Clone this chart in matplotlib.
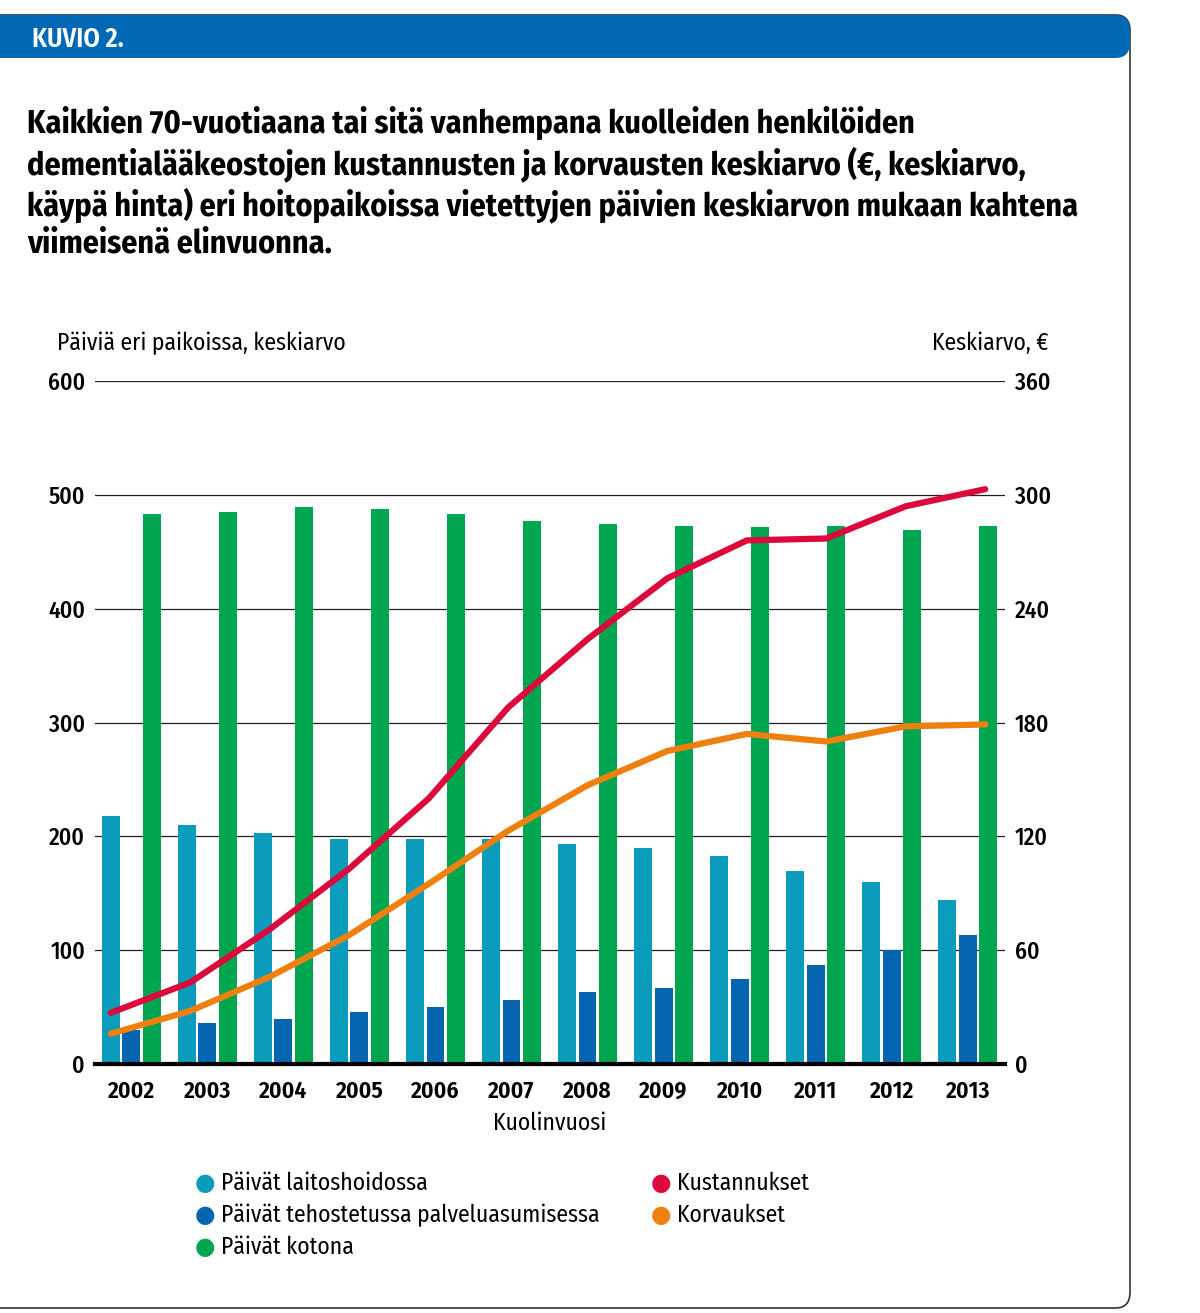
import matplotlib
matplotlib.use("Agg")
import numpy as np
import matplotlib.pyplot as plt
from matplotlib.patches import FancyBboxPatch

years = [str(y) for y in range(2002, 2014)]
laitos = [218, 210, 203, 198, 198, 198, 193, 190, 183, 170, 160, 144]
tehost = [30, 36, 40, 46, 50, 56, 63, 67, 75, 87, 100, 113]
kotona = [483, 485, 489, 488, 483, 477, 474, 473, 472, 473, 469, 473]
kustannukset = [27, 43, 71, 103, 140, 188, 224, 256, 276, 277, 294, 303]
korvaukset = [16, 28, 46, 68, 95, 123, 147, 165, 174, 170, 178, 179]

C_LAITOS = "#0b9bbb"
C_TEHOST = "#0565b0"
C_KOTONA = "#00a54f"
C_KUST = "#dc0a3c"
C_KORV = "#ee8010"

plt.rcParams["font.family"] = ["Fira Sans Condensed", "DejaVu Sans"]

fig = plt.figure(figsize=(12, 13.13), dpi=100)
ax = fig.add_axes([0.079, 0.1896, 0.7585, 0.5202])
ax2 = ax.twinx()

x = np.arange(len(years))
bw = 0.235
step = 0.268
ax.bar(x - step, laitos, bw, color=C_LAITOS, zorder=2)
ax.bar(x, tehost, bw, color=C_TEHOST, zorder=2)
ax.bar(x + step, kotona, bw, color=C_KOTONA, zorder=2)

# the lines run slightly wider than the bar groups in the original
lx = x + np.interp(x, [0, 11], [-0.27, 0.23])
ax2.plot(lx, kustannukset, color=C_KUST, lw=4.5, solid_capstyle="round", solid_joinstyle="round")
ax2.plot(lx, korvaukset, color=C_KORV, lw=4.5, solid_capstyle="round", solid_joinstyle="round")

ax.set_xlim(-0.48, 11.49)
ax.set_ylim(0, 600)
ax2.set_ylim(0, 360)
ax.set_yticks(range(0, 601, 100))
ax2.set_yticks(range(0, 361, 60))
ax.yaxis.grid(True, color="#222222", lw=0.9, zorder=0)
ax.set_axisbelow(True)
for a in (ax, ax2):
    for s in a.spines.values():
        s.set_visible(False)
    a.tick_params(length=0, labelsize=17)
    for t in a.get_yticklabels():
        t.set_fontweight(500)
ax.spines["bottom"].set_visible(True)
ax.spines["bottom"].set_linewidth(3)
ax.spines["bottom"].set_zorder(5)
ax.set_xticks(x)
ax.set_xticklabels(years, fontsize=17, fontweight=600)
ax.tick_params(axis="x", pad=11)
ax.tick_params(axis="y", pad=7)
ax2.tick_params(axis="y", pad=7)
ax.set_xlabel("Kuolinvuosi", fontsize=17, labelpad=7)
ax2.set_zorder(ax.get_zorder() + 1)

fig.text(57 / 1200, 1 - 343 / 1313, "Päiviä eri paikoissa, keskiarvo", fontsize=17, va="center")
fig.text(1048 / 1200, 1 - 343 / 1313, "Keskiarvo, €", fontsize=17, va="center", ha="right")

title = ("Kaikkien 70-vuotiaana tai sitä vanhempana kuolleiden henkilöiden\n"
         "dementialääkeostojen kustannusten ja korvausten keskiarvo (€, keskiarvo,\n"
         "käypä hinta) eri hoitopaikoissa vietettyjen päivien keskiarvon mukaan kahtena\n"
         "viimeisenä elinvuonna.")
fig.text(27 / 1200, 1 - 106 / 1313, title, fontsize=23, fontweight=700, va="top", linespacing=1.2)

# header bar and frame
fig.patches.append(FancyBboxPatch((-20 / 1200, 1 - 1308 / 1313), 1150 / 1200, 1293 / 1313,
                                  boxstyle="round,pad=0,rounding_size=0.012", transform=fig.transFigure,
                                  fc="none", ec="#333333", lw=1.2))
fig.patches.append(FancyBboxPatch((-20 / 1200, 1 - 58 / 1313), 1150 / 1200, 43 / 1313,
                                  boxstyle="round,pad=0,rounding_size=0.012", transform=fig.transFigure,
                                  fc="#0068b4", ec="none"))
fig.text(32 / 1200, 1 - 39 / 1313, "KUVIO 2.", color="white", fontsize=19, fontweight=600, va="center")

# legend
leg_left = [("Päivät laitoshoidossa", C_LAITOS),
            ("Päivät tehostetussa palveluasumisessa", C_TEHOST),
            ("Päivät kotona", C_KOTONA)]
leg_right = [("Kustannukset", C_KUST), ("Korvaukset", C_KORV)]
for col_x, items in ((205, leg_left), (661, leg_right)):
    for i, (lab, c) in enumerate(items):
        yy = 1 - (1183 + i * 32) / 1313
        fig.text(col_x / 1200, yy, "●", color=c, fontsize=17, ha="center", va="center", family="DejaVu Sans")
        fig.text((col_x + 16) / 1200, yy, lab, fontsize=17, va="center")

fig.savefig("out.png", dpi=100)
